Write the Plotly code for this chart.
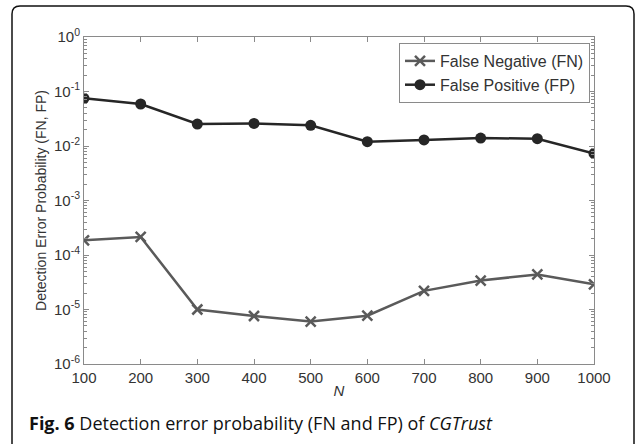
import plotly.graph_objects as go

N = [100, 200, 300, 400, 500, 600, 700, 800, 900, 1000]
fn = [1.86e-4, 2.14e-4, 1.0e-5, 7.6e-6, 6.0e-6, 7.7e-6, 2.2e-5, 3.4e-5, 4.4e-5, 2.9e-5]
fp = [0.075, 0.059, 0.0253, 0.026, 0.024, 0.012, 0.0129, 0.014, 0.0136, 0.0073]
ytick_vals = [1e-6, 1e-5, 1e-4, 1e-3, 1e-2, 1e-1, 1e0]
ytick_text = ["10<sup>-6</sup>", "10<sup>-5</sup>", "10<sup>-4</sup>", "10<sup>-3</sup>",
              "10<sup>-2</sup>", "10<sup>-1</sup>", "10<sup>0</sup>"]
minor_vals = [m * d for d in ytick_vals[:-1] for m in range(2, 10)]

W, H = 636, 444
L, R, T, B = 84, 594, 37, 364

def px(x):
    return (x - L) / (R - L)

def py(y):
    return (B - y) / (B - T)

FONT = "Liberation Sans, Arial"

fig = go.Figure()
fig.add_trace(go.Scatter(x=N, y=fn, mode="lines+markers", name="False Negative (FN)",
                         line=dict(color="#5a5a5a", width=2.5),
                         marker=dict(symbol="x-thin", size=10, line=dict(color="#5a5a5a", width=2.5))))
fig.add_trace(go.Scatter(x=N, y=fp, mode="lines+markers", name="False Positive (FP)",
                         line=dict(color="#262626", width=2.5),
                         marker=dict(symbol="circle", size=11, color="#262626")))

axis_common = dict(showline=True, linecolor="#8a8a8a", linewidth=1, mirror="ticks",
                   ticks="inside", tickcolor="#8a8a8a", showgrid=False, zeroline=False,
                   tickfont=dict(family=FONT, size=15, color="#333333"))

fig.update_xaxes(range=[100, 1000], tickvals=N, ticklen=5,
                 title=dict(text="<i>N</i>", font=dict(family=FONT, size=15, color="#333333"), standoff=0),
                 **axis_common)
fig.update_yaxes(type="log", range=[-6, 0], tickvals=ytick_vals, ticktext=ytick_text, ticklen=5,
                 minor=dict(ticks="inside", ticklen=3, tickcolor="#8a8a8a", showgrid=False,
                            tickvals=minor_vals),
                 title=dict(text="Detection Error Probability (FN, FP)", font=dict(family=FONT, size=14, color="#333333"), standoff=4),
                 **axis_common)

fig.update_layout(
    width=W, height=H, autosize=False,
    margin=dict(l=L, r=W - R, t=T, b=H - B, pad=0),
    paper_bgcolor="white", plot_bgcolor="white",
    showlegend=True,
    legend=dict(x=px(590), y=py(43), xanchor="right", yanchor="top",
                bordercolor="#8a8a8a", borderwidth=1, bgcolor="white",
                font=dict(family=FONT, size=16, color="#333333"),
                tracegroupgap=0, itemwidth=30),
)

# rounded frame around the figure
r = 8
x0, y0, x1, y1 = 12, 6, 634, 470
path = (f"M {px(x0)},{py(y0 + r)} Q {px(x0)},{py(y0)} {px(x0 + r)},{py(y0)} "
        f"L {px(x1 - r)},{py(y0)} Q {px(x1)},{py(y0)} {px(x1)},{py(y0 + r)} "
        f"L {px(x1)},{py(y1)} M {px(x0)},{py(y1)} L {px(x0)},{py(y0 + r)}")
fig.add_shape(type="path", path=path, xref="paper", yref="paper",
              line=dict(color="#111111", width=1.5))

fig.add_annotation(x=px(27), y=py(423), xref="paper", yref="paper", xanchor="left", yanchor="middle",
                   showarrow=False,
                   text="<b>Fig. 6</b> Detection error probability (FN and FP) of <i>CGTrust</i>",
                   font=dict(family="Open Sans", size=18, color="#111111"))

fig.write_html("out.html")
